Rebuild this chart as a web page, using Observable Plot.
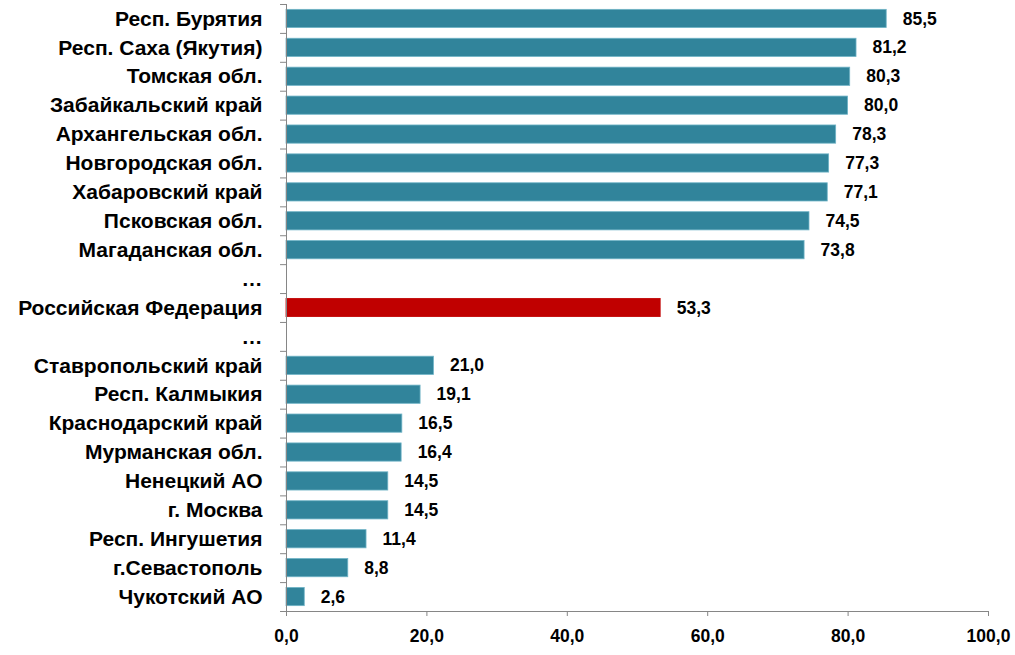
<!DOCTYPE html>
<html>
<head>
<meta charset="utf-8">
<script src="https://cdn.jsdelivr.net/npm/d3@7"></script>
<script src="https://cdn.jsdelivr.net/npm/@observablehq/plot@0.6"></script>
<style>
  html, body { margin: 0; padding: 0; background: #fff; }
  svg { display: block; }
</style>
</head>
<body>
<div id="chart"></div>
<script>
const regions = [
  "Респ. Бурятия", "Респ. Саха (Якутия)", "Томская обл.", "Забайкальский край",
  "Архангельская обл.", "Новгородская обл.", "Хабаровский край", "Псковская обл.",
  "Магаданская обл.", "…", "Российская Федерация", "…",
  "Ставропольский край", "Респ. Калмыкия", "Краснодарский край", "Мурманская обл.",
  "Ненецкий АО", "г. Москва", "Респ. Ингушетия", "г.Севастополь", "Чукотский АО"
];
const values = [
  85.5, 81.2, 80.3, 80.0, 78.3, 77.3, 77.1, 74.5, 73.8, null, 53.3, null,
  21.0, 19.1, 16.5, 16.4, 14.5, 14.5, 11.4, 8.8, 2.6
];
const highlight = "Российская Федерация";
const xTicks = [0, 20, 40, 60, 80, 100];

const rows = regions.map((name, i) => ({i, name, value: values[i]}));
const bars = rows.filter(d => d.value != null);
const fmt = v => v.toFixed(1).replace(".", ",");

const W = 1015, H = 655;
const mTop = 4, mBottom = 44, mLeft = 286, mRight = 27;
const step = (H - mTop - mBottom) / regions.length;
const pad = 0.37;

const chart = Plot.plot({
  width: W,
  height: H,
  marginTop: mTop,
  marginBottom: mBottom,
  marginLeft: mLeft,
  marginRight: mRight,
  style: {fontFamily: "'Liberation Sans', Arial, sans-serif", fontWeight: "bold", fontSize: "16px", color: "#000", background: "#fff"},
  x: {domain: [0, 100]},
  y: {domain: rows.map(d => d.i), paddingInner: pad, paddingOuter: pad / 2, align: 0.5, round: false},
  marks: [
    Plot.barX(bars, {
      x: "value", y: "i",
      fill: d => d.name === highlight ? "#C00000" : "#31849B",
      stroke: d => d.name === highlight ? "#C00000" : "#6FB3C6",
      strokeWidth: 0.8
    }),
    Plot.text(bars, {
      x: "value", y: "i", text: d => fmt(d.value),
      textAnchor: "start", dx: 16, fontSize: 17.5, fontWeight: "bold", fill: "#000"
    }),
    Plot.axisY({
      tickSize: 0, tickPadding: 24, label: null,
      tickFormat: i => regions[i], fontSize: 21, fontWeight: "bold"
    }),
    // category boundary tick marks on the vertical axis
    Plot.ruleY(rows, {y: "i", x1: -0.85, x2: 0, dy: -step / 2, stroke: "#868686"}),
    Plot.ruleY(rows.slice(-1), {y: "i", x1: -0.85, x2: 0, dy: step / 2, stroke: "#868686"}),
    Plot.ruleX([0], {stroke: "#868686"}),
    Plot.frame({anchor: "bottom", stroke: "#868686"}),
    Plot.axisX({
      ticks: xTicks, tickFormat: fmt, tickSize: 5, tickPadding: 13,
      label: null, stroke: "#868686", fontSize: 17.5, fontWeight: "bold", color: "#000"
    })
  ]
});
document.getElementById("chart").appendChild(chart);
</script>
</body>
</html>
